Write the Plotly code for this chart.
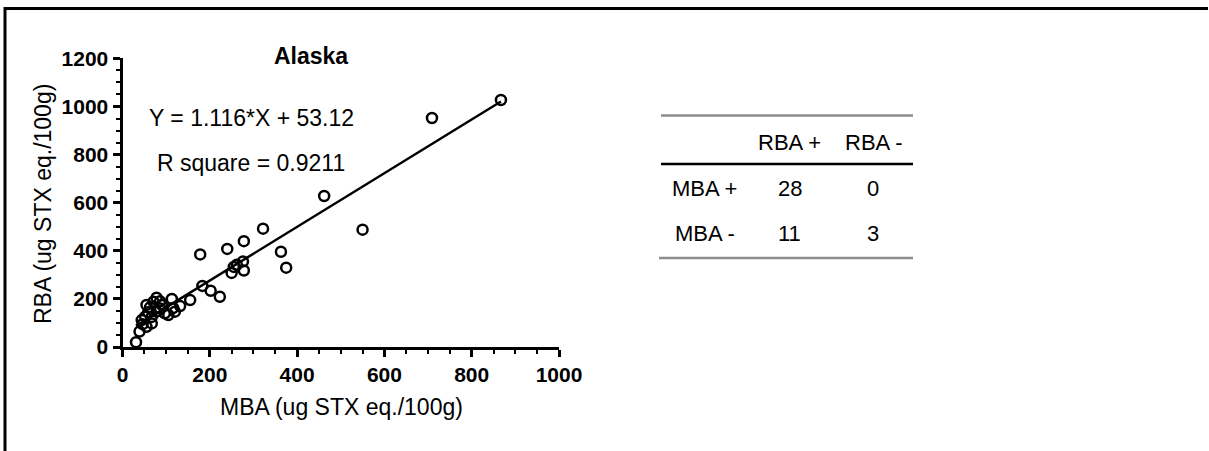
import plotly.graph_objects as go

# ---- data ----
mba = [31, 39, 46, 44, 52, 55, 59, 67, 55, 63, 71, 78, 86, 78, 86, 97, 105, 113, 120, 116,
       132, 155, 183, 202, 223, 178, 240, 278, 322, 250, 255, 262, 276, 278, 363, 375,
       462, 550, 709, 867, 90, 67]
rba = [20, 64, 95, 112, 126, 84, 145, 98, 175, 165, 188, 205, 190, 147, 160, 140, 133, 200, 147, 162,
       170, 195, 254, 234, 209, 385, 408, 440, 492, 308, 333, 342, 356, 318, 396, 330,
       628, 488, 952, 1027, 175, 125]
slope = 1.116
intercept = 53.12
r_square = 0.9211
title = "Alaska"
x_title = "MBA (ug STX eq./100g)"
y_title = "RBA (ug STX eq./100g)"

col_labels = ["RBA +", "RBA -"]
row_labels = ["MBA +", "MBA -"]
table_values = [[28, 0], [11, 3]]

W, H = 1209, 451
FONT = "Liberation Sans, Arial, sans-serif"

def px(x):
    return x / W

def py(y):
    return 1 - y / H

fig = go.Figure()

xmin, xmax = min(mba), max(mba)
fig.add_trace(go.Scatter(
    x=[xmin, xmax], y=[slope * xmin + intercept, slope * xmax + intercept],
    mode="lines", line=dict(color="black", width=2.5), hoverinfo="skip", showlegend=False))

fig.add_trace(go.Scatter(
    x=mba, y=rba, mode="markers",
    marker=dict(symbol="circle-open", size=10, color="black", line=dict(width=2.5, color="black")),
    cliponaxis=False, showlegend=False))

axis_common = dict(
    showgrid=False, zeroline=False, showline=True, linecolor="black", linewidth=3,
    ticks="outside", ticklen=7, tickwidth=2.5, tickcolor="black", automargin=False,
    tickfont=dict(family=FONT, size=21, color="black", weight="bold"),
    minor=dict(ticks="outside", ticklen=4, tickwidth=2, tickcolor="black", dtick=50),
)

fig.update_layout(
    width=W, height=H, autosize=False,
    margin=dict(l=0, r=0, t=0, b=0, pad=0),
    paper_bgcolor="white", plot_bgcolor="white",
    font=dict(family=FONT, color="black"),
    showlegend=False,
    xaxis=dict(axis_common, domain=[px(122.5), px(559)], range=[0, 1000], dtick=200),
    yaxis=dict(axis_common, domain=[py(347), py(58.4)], range=[0, 1200], dtick=200),
)

annotations = [
    dict(text="<b>" + title + "</b>", x=px(311), y=py(56), font=dict(size=23)),
    dict(text=f"Y = {slope}*X + {intercept}", x=px(251), y=py(118), font=dict(size=23)),
    dict(text=f"R square = {r_square}", x=px(251), y=py(163), font=dict(size=23)),
    dict(text=x_title, x=px(341), y=py(407), font=dict(size=23)),
    dict(text=y_title, x=px(43), y=py(204), font=dict(size=23), textangle=-90),
]

# table
col_x = [790, 873]
row_y = [188, 234]
row_x = 705
for j, lab in enumerate(col_labels):
    annotations.append(dict(text=lab, x=px(col_x[j]), y=py(142), font=dict(size=22)))
for i, lab in enumerate(row_labels):
    annotations.append(dict(text=lab, x=px(row_x), y=py(row_y[i]), font=dict(size=22)))
    for j, v in enumerate(table_values[i]):
        annotations.append(dict(text=str(v), x=px(col_x[j]), y=py(row_y[i]), font=dict(size=22)))

for a in annotations:
    a.update(xref="paper", yref="paper", showarrow=False, xanchor="center", yanchor="middle")
    a["font"].update(family=FONT, color="black")
fig.update_layout(annotations=annotations)

shapes = [
    dict(type="line", x0=px(661), x1=px(913), y0=py(115.5), y1=py(115.5), line=dict(color="#8c8c8c", width=2.5)),
    dict(type="line", x0=px(661), x1=px(913), y0=py(164), y1=py(164), line=dict(color="black", width=2.5)),
    dict(type="line", x0=px(659), x1=px(913), y0=py(258), y1=py(258), line=dict(color="#8c8c8c", width=2.5)),
    # outer border (top and left)
    dict(type="line", x0=px(4), x1=px(1208), y0=py(8.5), y1=py(8.5), line=dict(color="black", width=3)),
    dict(type="line", x0=px(5), x1=px(5), y0=py(7), y1=py(451), line=dict(color="black", width=3)),
]
for s in shapes:
    s.update(xref="paper", yref="paper")
fig.update_layout(shapes=shapes)

fig.write_html("out.html", config={"displayModeBar": False},
               post_script="document.body.style.margin='0px';document.body.style.overflow='hidden';")
